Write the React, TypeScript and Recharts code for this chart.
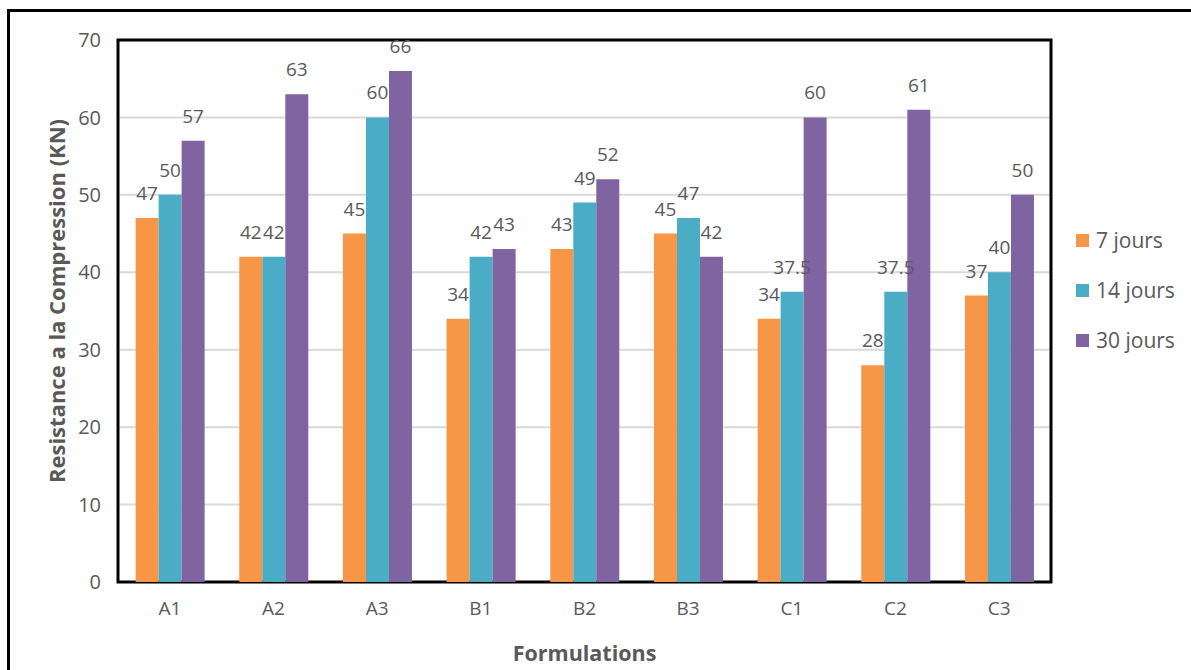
import React from "react";
import { BarChart, Bar, XAxis, YAxis, CartesianGrid, LabelList, Legend, ReferenceArea } from "recharts";

const categories = ["A1", "A2", "A3", "B1", "B2", "B3", "C1", "C2", "C3"];
const jours7 = [47, 42, 45, 34, 43, 45, 34, 28, 37];
const jours14 = [50, 42, 60, 42, 49, 47, 37.5, 37.5, 40];
const jours30 = [57, 63, 66, 43, 52, 42, 60, 61, 50];
const yTicks = [0, 10, 20, 30, 40, 50, 60, 70];

const seriesNames = ["7 jours", "14 jours", "30 jours"];
const colors = ["#F79646", "#4BACC6", "#8064A2"];

const data = categories.map((c, i) => ({
  name: c,
  s7: jours7[i],
  s14: jours14[i],
  s30: jours30[i],
}));

const FONT = "'Open Sans', 'Noto Sans', sans-serif";
const GREY = "#595959";

const LegendContent = () => (
  <div style={{ fontFamily: FONT }}>
    {seriesNames.map((n, i) => (
      <div key={n} style={{ display: "flex", alignItems: "center", height: 50 }}>
        <div style={{ width: 13, height: 13, background: colors[i], marginRight: 7 }} />
        <span style={{ fontSize: 21, color: GREY }}>{n}</span>
      </div>
    ))}
  </div>
);

const YLabel = (props: any) => {
  const vb = props.viewBox || { x: 58, y: 40, width: 60, height: 542 };
  const cx = vb.x - 2;
  const cy = vb.y + vb.height / 2 - 10;
  return (
    <text
      x={cx}
      y={cy}
      transform={`rotate(-90, ${cx}, ${cy})`}
      textAnchor="middle"
      dominantBaseline="central"
      fill={GREY}
      fontSize={22}
      fontWeight={700}
      fontFamily={FONT}
    >
      Resistance a la Compression (KN)
    </text>
  );
};

export default function App() {
  const keys = ["s7", "s14", "s30"];
  return (
    <div style={{ position: "absolute", left: 0, top: 0, width: 1191, height: 670, overflow: "hidden", background: "#fff" }}>
      <div
        style={{
          position: "absolute",
          left: 7,
          top: 9,
          width: 1300,
          height: 800,
          borderTop: "3px solid #000",
          borderLeft: "3px solid #000",
        }}
      />
      <div style={{ position: "absolute", left: 0, top: 0 }}>
        <BarChart
          width={1191}
          height={670}
          data={data}
          margin={{ top: 40, right: 24, left: 58, bottom: 0 }}
          barGap={0}
          barCategoryGap="17%"
        >
          <CartesianGrid vertical={false} stroke="#D9D9D9" strokeWidth={2} />
          <XAxis
            dataKey="name"
            height={88}
            tickLine={false}
            tickSize={0}
            tickMargin={20}
            axisLine={false}
            tick={{ fill: GREY, fontSize: 19, fontFamily: FONT }}
            label={{
              value: "Formulations",
              position: "insideBottom",
              offset: 9,
              style: { fill: GREY, fontSize: 21.5, fontWeight: 700, fontFamily: FONT },
            }}
          />
          <YAxis
            width={60}
            domain={[0, 70]}
            ticks={yTicks}
            tickLine={false}
            tickSize={0}
            tickMargin={17}
            axisLine={false}
            tick={{ fill: GREY, fontSize: 20, fontFamily: FONT }}
            label={{ content: <YLabel /> }}
          />
          <Legend
            layout="vertical"
            align="right"
            verticalAlign="top"
            content={<LegendContent />}
            wrapperStyle={{ left: 1076, top: 215, width: 116 }}
          />
          {keys.map((k, i) => (
            <Bar key={k} dataKey={k} name={seriesNames[i]} fill={colors[i]} isAnimationActive={false}>
              <LabelList
                dataKey={k}
                position="top"
                offset={18}
                style={{ fill: GREY, fontSize: 19, fontFamily: FONT }}
              />
            </Bar>
          ))}
          <ReferenceArea y1={0} y2={70} fill="none" fillOpacity={0} stroke="#000" strokeWidth={3} ifOverflow="visible" />
        </BarChart>
      </div>
    </div>
  );
}
